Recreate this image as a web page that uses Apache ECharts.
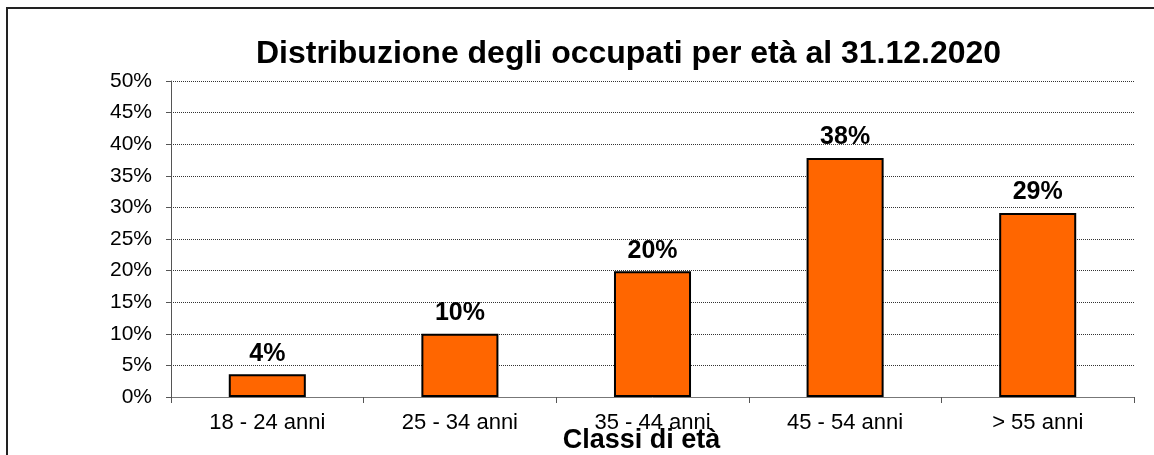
<!DOCTYPE html>
<html>
<head>
<meta charset="utf-8">
<script src="https://cdn.jsdelivr.net/npm/echarts@6/dist/echarts.min.js"></script>
<style>
    html, body { margin: 0; padding: 0; background: #fff; }
    #main { width: 1154px; height: 455px; }
</style>
</head>
<body>
<div id="main"></div>
<script>
// dati
var categories = ['18 - 24 anni', '25 - 34 anni', '35 - 44 anni', '45 - 54 anni', '> 55 anni'];
var values = [3.6, 10.0, 19.9, 37.8, 29.1];
var titleText = 'Distribuzione degli occupati per età al 31.12.2020';
var xName = 'Classi di età';

var chart = echarts.init(document.getElementById('main'));
var option = {
    animation: false,
    textStyle: { fontFamily: 'Liberation Sans, Arial, sans-serif' },
    graphic: [{
        type: 'rect',
        shape: { x: 7, y: 8, width: 1160, height: 460 },
        style: { fill: 'none', stroke: '#222', lineWidth: 2 },
        silent: true
    }],
    title: {
        text: titleText,
        left: 251,
        top: 33,
        textStyle: { fontSize: 32, fontWeight: 'bold', color: '#000' }
    },
    grid: { left: 171, right: 20, top: 81, bottom: 58, outerBoundsMode: 'none' },
    xAxis: {
        type: 'category',
        data: categories,
        name: xName,
        nameLocation: 'middle',
        nameGap: 30,
        nameMoveOverlap: false,
        nameTextStyle: { fontSize: 27, fontWeight: 'bold', color: '#000', padding: [0, 22, 0, 0] },
        axisLine: { lineStyle: { color: '#777', width: 1 } },
        axisTick: { show: true, length: 6, lineStyle: { color: '#555' } },
        axisLabel: { fontSize: 22, color: '#000', margin: 15 }
    },
    yAxis: {
        type: 'value',
        min: 0,
        max: 50,
        interval: 5,
        axisLine: { show: true, lineStyle: { color: '#555', width: 1 } },
        axisTick: { show: true, length: 5, lineStyle: { color: '#555' } },
        axisLabel: { fontSize: 21, color: '#000', margin: 19, formatter: '{value}%' },
        splitLine: { lineStyle: { color: '#333', type: [1, 1], width: 1 } }
    },
    series: [{
        type: 'bar',
        data: values,
        barWidth: '40%',
        itemStyle: { color: '#ff6600', borderColor: '#000', borderWidth: 2 },
        label: {
            show: true,
            position: 'top',
            distance: 8,
            fontSize: 25,
            fontWeight: 'bold',
            color: '#000',
            formatter: function (p) { return Math.round(p.value) + '%'; }
        }
    }]
};
chart.setOption(option);
</script>
</body>
</html>
